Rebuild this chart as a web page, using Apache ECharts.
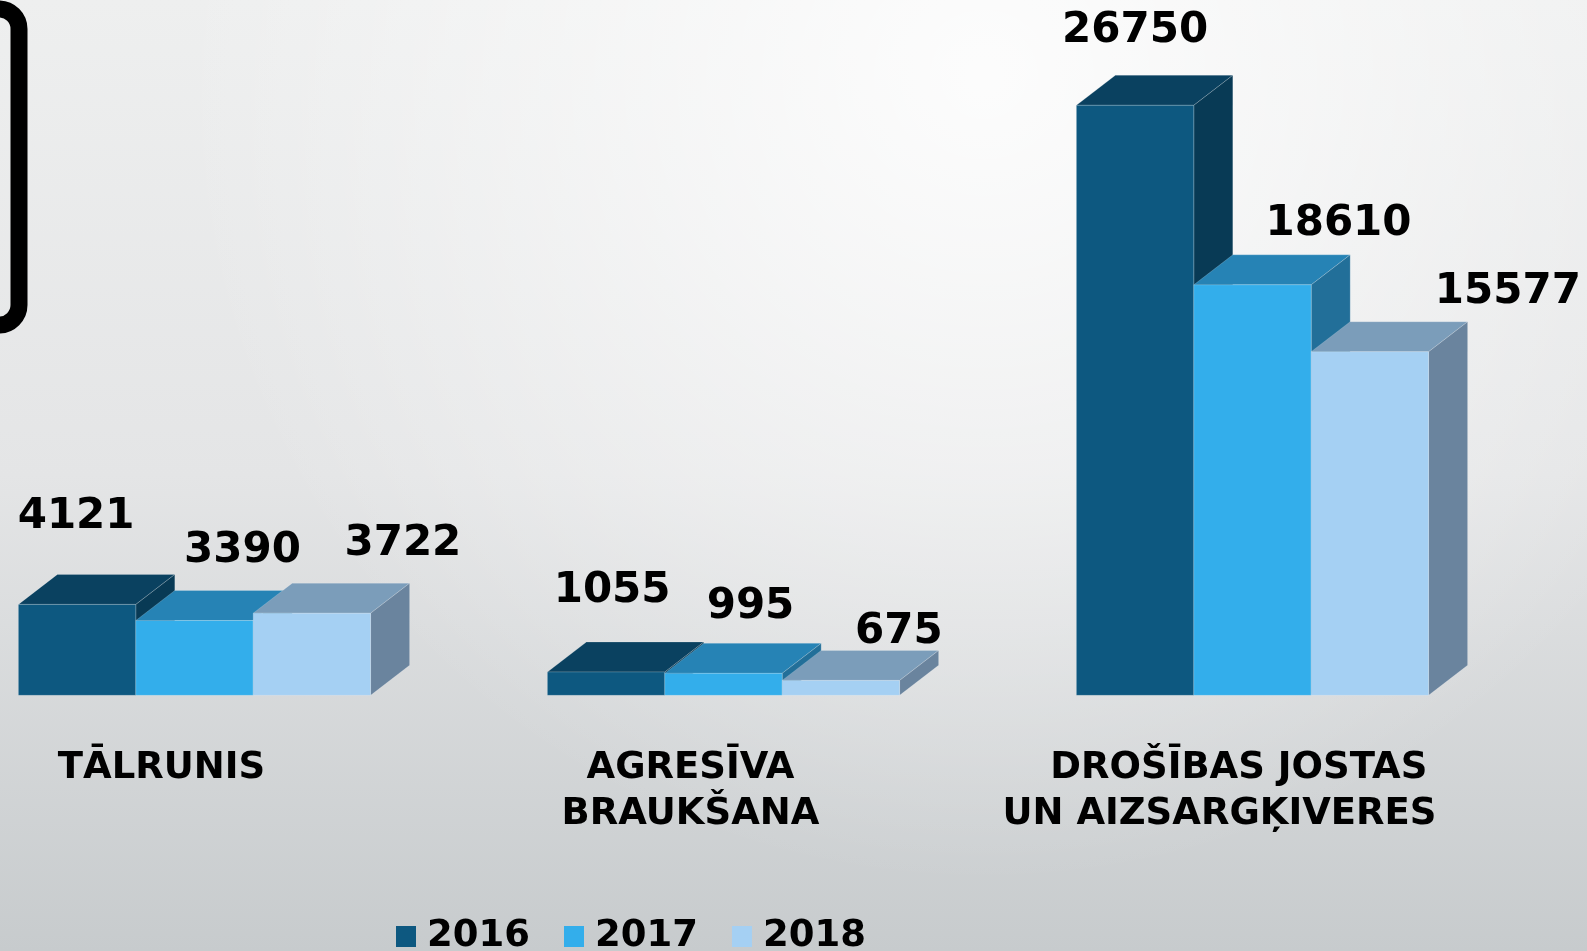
<!DOCTYPE html>
<html>
<head>
<meta charset="utf-8">
<script src="https://cdn.jsdelivr.net/npm/echarts@6/dist/echarts.min.js"></script>
<style>
  html, body { margin: 0; padding: 0; }
  #chart { width: 1587px; height: 951px; }
</style>
</head>
<body>
<div id="chart"></div>
<script>
// kategorijas
const categories = ['TĀLRUNIS', 'AGRESĪVA\nBRAUKŠANA', '   DROŠĪBAS JOSTAS\nUN AIZSARGĶIVERES'];
const years = ['2016', '2017', '2018'];

// pārkāpumu skaits pa gadiem
const values2016 = [4121, 1055, 26750];
const values2017 = [3390, 995, 18610];
const values2018 = [3722, 675, 15577];

// krāsas: priekša, augša, sāns
const faceColors = [
  ['#0d5880', '#0a4160', '#083a55'],
  ['#33aeeb', '#2683b5', '#226f99'],
  ['#a5d0f3', '#7b9dba', '#6a849e']
];

// vērtību uzrakstu nobīdes (x no priekšas centra, y virs priekšas augšas)
const labelDx = [[-1, 6, 0], [48, 27, 86], [91, 58, 138]];
const labelDy = [[87, 81, 74], [69, 66, 61], [69, 48, 60]];

const BAR_RATIO = 117.4 / 529;
const SHIFT_X = -70;
const DEPTH_X = 39;
const DEPTH_Y = 30;

const chart = echarts.init(document.getElementById('chart'));

/**
 * @description uzzīmē vienu 3D stabiņu (priekša, augša, sāns) un vērtību
 */
function renderBar3D(params, api) {
  const si = params.seriesIndex;
  const di = params.dataIndex;
  const val = api.value(1);
  const base = api.coord([api.value(0), 0]);
  const top = api.coord([api.value(0), val]);
  const w = api.size([1, 0])[0] * BAR_RATIO;
  const x0 = base[0] + SHIFT_X + (si - 1) * w - w / 2;
  const x1 = x0 + w;
  const yb = base[1];
  const yt = top[1];
  const c = faceColors[si];
  const edge = { stroke: 'rgba(255,255,255,0.18)', lineWidth: 1 };

  return {
    type: 'group',
    children: [
      {
        type: 'polygon',
        shape: { points: [[x0, yt], [x1, yt], [x1 + DEPTH_X, yt - DEPTH_Y], [x0 + DEPTH_X, yt - DEPTH_Y]] },
        style: Object.assign({ fill: c[1] }, edge)
      },
      {
        type: 'polygon',
        shape: { points: [[x1, yt], [x1, yb], [x1 + DEPTH_X, yb - DEPTH_Y], [x1 + DEPTH_X, yt - DEPTH_Y]] },
        style: Object.assign({ fill: c[2] }, edge)
      },
      {
        type: 'rect',
        shape: { x: x0, y: yt, width: w, height: yb - yt },
        style: Object.assign({ fill: c[0] }, edge)
      },
      {
        type: 'text',
        style: {
          text: String(val),
          x: (x0 + x1) / 2 + labelDx[si][di],
          y: yt - labelDy[si][di],
          align: 'center',
          verticalAlign: 'middle',
          font: 'bold 42px "DejaVu Sans"',
          fill: '#000'
        }
      }
    ]
  };
}

const seriesData = [values2016, values2017, values2018];

const option = {
  backgroundColor: {
    type: 'linear', x: 0, y: 0, x2: 0, y2: 1,
    colorStops: [
      { offset: 0, color: '#eeefef' },
      { offset: 0.5, color: '#e4e5e6' },
      { offset: 1, color: '#c7cbcd' }
    ]
  },
  animation: false,
  graphic: [
    {
      type: 'rect',
      z: 0,
      silent: true,
      shape: { x: 0, y: 0, width: 1587, height: 951 },
      style: {
        fill: {
          type: 'radial', x: 0.62, y: 0.08, r: 0.85,
          colorStops: [
            { offset: 0, color: 'rgba(255,255,255,0.85)' },
            { offset: 1, color: 'rgba(255,255,255,0)' }
          ]
        }
      }
    },
    {
      type: 'rect',
      z: 10,
      silent: true,
      shape: { x: -200, y: 9, width: 219, height: 316, r: 20 },
      style: { fill: 'none', stroke: '#000', lineWidth: 17 }
    }
  ],
  grid: {
    left: 0,
    right: 0,
    top: 33.6,
    bottom: 255.7,
    containLabel: false,
    outerBoundsMode: 'none'
  },
  legend: {
    data: years,
    left: 391,
    top: 913,
    icon: 'rect',
    itemWidth: 20,
    itemHeight: 21,
    itemGap: 34,
    textStyle: {
      fontFamily: 'DejaVu Sans',
      fontWeight: 'bold',
      fontSize: 37,
      color: '#000',
      padding: [0, 0, 0, 6]
    }
  },
  xAxis: {
    type: 'category',
    data: categories,
    axisLine: { show: false },
    axisTick: { show: false },
    axisLabel: {
      interval: 0,
      margin: 50,
      fontFamily: 'DejaVu Sans',
      fontWeight: 'bold',
      fontSize: 37,
      lineHeight: 46,
      color: '#000',
      align: 'center',
      verticalAlign: 'top',
      padding: [0, 206, 0, 0]
    }
  },
  yAxis: {
    type: 'value',
    min: 0,
    max: 30000,
    show: false,
    splitLine: { show: false }
  },
  series: seriesData.map((vals, i) => ({
    type: 'custom',
    name: years[i],
    itemStyle: { color: faceColors[i][0] },
    renderItem: renderBar3D,
    encode: { x: 0, y: 1 },
    data: vals.map((v, k) => [k, v])
  }))
};

chart.setOption(option);
</script>
</body>
</html>
